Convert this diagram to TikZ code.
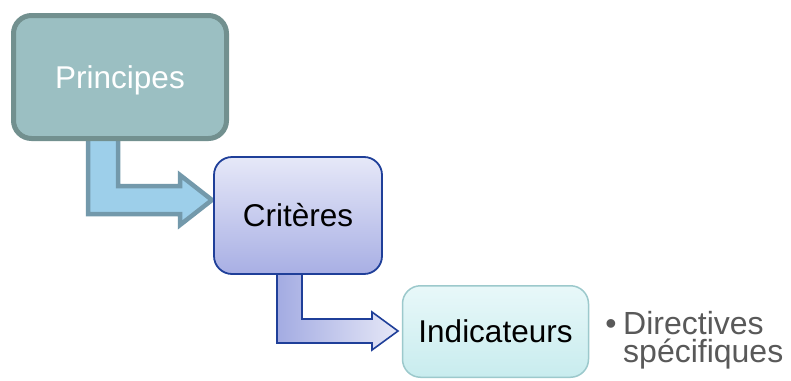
\documentclass[tikz,border=0pt]{standalone}
\usepackage{fontspec}
\setmainfont{Liberation Sans}
\definecolor{pfill}{HTML}{9BBFC2}
\definecolor{pline}{HTML}{72908F}
\definecolor{aonefill}{HTML}{9DCFEA}
\definecolor{aoneline}{HTML}{7399AB}
\definecolor{cline}{HTML}{1F3F99}
\definecolor{ctop}{HTML}{E6E8F8}
\definecolor{cbot}{HTML}{A8AFE4}
\definecolor{aleft}{HTML}{A3ABE2}
\definecolor{aright}{HTML}{E6E8F7}
\definecolor{itop}{HTML}{E8F8F9}
\definecolor{ibot}{HTML}{C8ECEE}
\definecolor{iline}{HTML}{9CC9CC}
\definecolor{txtgray}{HTML}{595959}
\begin{document}
\begin{tikzpicture}[x=1pt,y=-1pt,
  box/.style={rectangle, rounded corners=18pt, inner sep=0pt,
    font=\fontsize{31.5}{31.5}\selectfont, text height=22pt, text depth=0pt},
  pbox/.style={box, draw=pline, line width=5pt, fill=pfill, text=white,
    minimum width=213pt, minimum height=123pt},
  cbox/.style={box, draw=cline, line width=1.8pt, top color=ctop, bottom color=cbot,
    minimum width=168pt, minimum height=117pt},
  ibox/.style={box, draw=iline, line width=1.5pt, top color=itop, bottom color=ibot,
    minimum width=186pt, minimum height=91.5pt},
  arrowone/.style={draw=aoneline, fill=aonefill, line width=4.5pt, line join=miter},
  arrowtwo/.style={draw=cline, left color=aleft, right color=aright, line width=1.6pt, line join=miter},
  bultext/.style={text=txtgray, inner sep=0pt, font=\fontsize{32}{28}\selectfont}
]
\useasboundingbox (0,0) rectangle (791,380);
\clip (0,0) rectangle (791,380);
\fill[white] (0,0) rectangle (791,380);

% block arrows (drawn behind the boxes)
\path[arrowone] (88,130) -- (88,214) -- (180,214) -- (180,225) -- (212,200)
  -- (180,175) -- (180,186) -- (118,186) -- (118,130) -- cycle;
\path[arrowtwo] (277,265) -- (277,343) -- (372,343) -- (372,350) -- (398,331)
  -- (372,312) -- (372,319) -- (302,319) -- (302,265) -- cycle;

% boxes
\node[pbox] (princ) at (120,77) {Principes};
\node[cbox] (crit) at (298,215.5) {Critères};
\node[ibox] (ind) at (495.5,331.5) {Indicateurs};

% bullet text
\node[bultext, anchor=base] (bul) at (611,334) {•};
\node[bultext, anchor=north west, align=left] (dir) at (623,311) {Directives\\spécifiques};
\end{tikzpicture}
\end{document}
